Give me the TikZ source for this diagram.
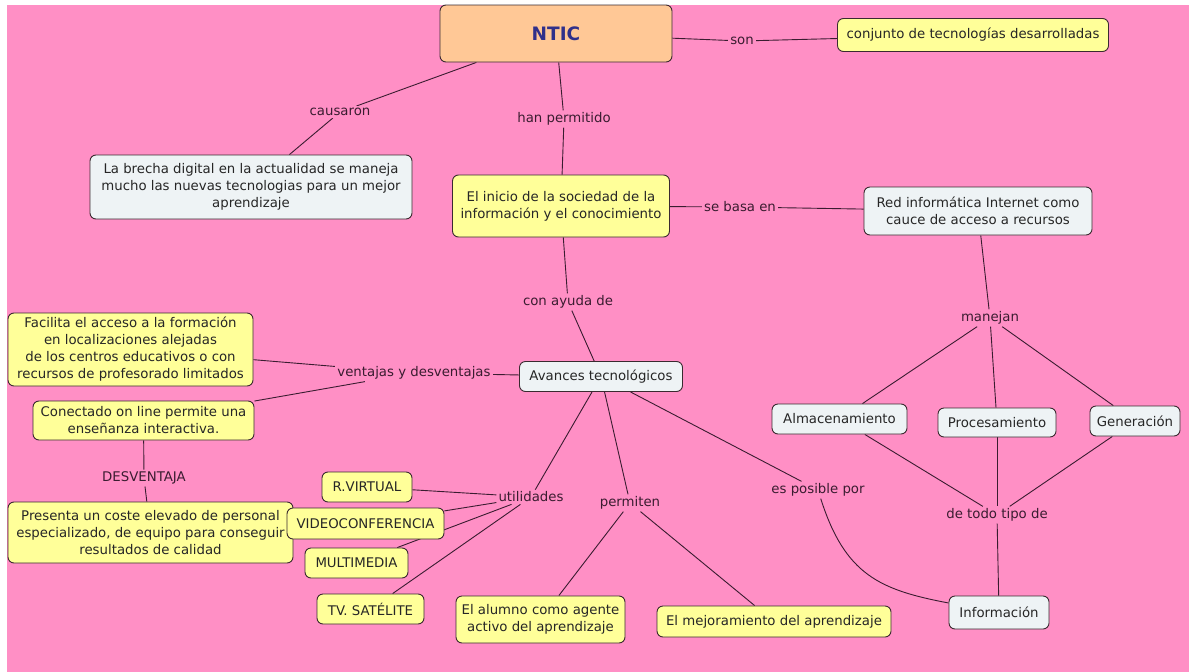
\documentclass[tikz,border=0pt]{standalone}
\usepackage{fontspec}
\setmainfont{DejaVu Sans}
\usetikzlibrary{backgrounds}
\definecolor{pinkbg}{HTML}{FF8FC5}
\definecolor{yelbox}{HTML}{FFFF99}
\definecolor{grybox}{HTML}{EEF3F5}
\definecolor{peach}{HTML}{FFC896}
\definecolor{navy}{HTML}{30308A}
\definecolor{linec}{HTML}{3A1C30}
\definecolor{labc}{HTML}{3A1C30}
\definecolor{boxborder}{HTML}{3A2A30}
\begin{document}
\begin{tikzpicture}[x=1pt,y=-1pt,
  box/.style={draw=boxborder, line width=0.9pt, rounded corners=6pt, align=center, inner sep=3pt,
              font=\fontsize{13.3}{17}\selectfont, text=black!85},
  yel/.style={box, fill=yelbox},
  gry/.style={box, fill=grybox},
  lab/.style={fill=pinkbg, inner sep=2pt, font=\fontsize{13.3}{15}\selectfont, text=labc},
  conn/.style={draw=linec, line width=0.9pt}]
\useasboundingbox (0,0) rectangle (1189,672);

% concept nodes
\node[box, fill=peach, minimum width=232pt, minimum height=57pt, font=\fontsize{18.5}{22}\selectfont\bfseries, text=navy] (ntic) at (556,33.5) {NTIC};
\node[yel, minimum width=271pt, minimum height=33pt] (conj) at (973,35) {conjunto de tecnologías desarrolladas};
\node[gry, minimum width=322pt, minimum height=64pt] (brecha) at (251,187) {La brecha digital en la actualidad se maneja\\mucho las nuevas tecnologias para un mejor\\aprendizaje};
\node[yel, minimum width=217pt, minimum height=62pt] (inicio) at (561,206) {El inicio de la sociedad de la\\información y el conocimiento};
\node[gry, minimum width=228pt, minimum height=48pt] (red) at (978,211) {Red informática Internet como\\cauce de acceso a recursos};
\node[gry, minimum width=163pt, minimum height=30pt] (avances) at (601,376.5) {Avances tecnológicos};
\node[yel, minimum width=245pt, minimum height=73pt] (facilita) at (130.5,349.5) {Facilita el acceso a la formación\\en localizaciones alejadas\\de los centros educativos o con\\recursos de profesorado limitados};
\node[yel, minimum width=221pt, minimum height=39pt] (conectado) at (143.5,420.5) {Conectado on line permite una\\enseñanza interactiva.};
\node[yel, minimum width=285pt, minimum height=61pt] (presenta) at (150.5,532.5) {Presenta un coste elevado de personal\\especializado, de equipo para conseguir\\resultados de calidad};
\node[yel, minimum width=90pt, minimum height=30pt] (rvirtual) at (367,487) {R.VIRTUAL};
\node[yel, minimum width=157pt, minimum height=31pt] (video) at (365.5,523.5) {VIDEOCONFERENCIA};
\node[yel, minimum width=103pt, minimum height=30pt] (multi) at (356.5,563) {MULTIMEDIA};
\node[yel, minimum width=107pt, minimum height=30pt] (tv) at (370.5,609) {TV. SATÉLITE};
\node[yel, minimum width=169pt, minimum height=47pt] (alumno) at (540.5,619.5) {El alumno como agente\\activo del aprendizaje};
\node[yel, minimum width=234pt, minimum height=31pt] (mejora) at (774,621.5) {El mejoramiento del aprendizaje};
\node[gry, minimum width=135pt, minimum height=30pt] (alm) at (839.5,419) {Almacenamiento};
\node[gry, minimum width=118pt, minimum height=29pt] (proc) at (997,422.5) {Procesamiento};
\node[gry, minimum width=90pt, minimum height=30pt] (gen) at (1135,421) {Generación};
\node[gry, minimum width=100pt, minimum height=33pt] (info) at (999,612.5) {Información};

% linking phrases
\node[lab] (lson) at (742,41) {son};
\node[lab] (lcaus) at (340,112) {causaron};
\node[lab] (lhan) at (564,119) {han permitido};
\node[lab] (lbasa) at (740,207) {se basa en};
\node[lab] (layuda) at (568,302) {con ayuda de};
\node[lab] (lmanejan) at (990,318) {manejan};
\node[lab] (lventajas) at (414,373) {ventajas y desventajas};
\node[lab] (ldesv) at (144,478) {DESVENTAJA};
\node[lab] (lutil) at (531,497) {utilidades};
\node[lab] (lperm) at (630,503) {permiten};
\node[lab] (lposible) at (818,490) {es posible por};
\node[lab] (ltodo) at (997,515) {de todo tipo de};

\begin{scope}[on background layer]
\fill[pinkbg] (7,5) rectangle (1189,672);
\draw[conn] (ntic) -- (lson) -- (conj);
\draw[conn] (ntic) -- (lcaus) -- (brecha);
\draw[conn] (ntic) -- (lhan) -- (inicio);
\draw[conn] (inicio) -- (lbasa) -- (red);
\draw[conn] (inicio) -- (layuda) -- (avances);
\draw[conn] (red) -- (lmanejan);
\draw[conn] (lmanejan) -- (alm);
\draw[conn] (lmanejan) -- (proc);
\draw[conn] (lmanejan) -- (gen);
\draw[conn] (alm) -- (ltodo);
\draw[conn] (proc) -- (ltodo);
\draw[conn] (gen) -- (ltodo);
\draw[conn] (ltodo) -- (info);
\draw[conn] (avances) -- (lventajas);
\draw[conn] (lventajas) -- (facilita);
\draw[conn] (lventajas) -- (conectado);
\draw[conn] (conectado) -- (ldesv) -- (presenta);
\draw[conn] (avances) -- (lutil);
\draw[conn] (lutil) -- (rvirtual);
\draw[conn] (lutil) -- (video);
\draw[conn] (lutil) -- (multi);
\draw[conn] (lutil) -- (tv);
\draw[conn] (avances) -- (lperm);
\draw[conn] (lperm) -- (alumno);
\draw[conn] (lperm) -- (mejora);
\draw[conn] (avances) -- (lposible);
\draw[conn] (lposible) .. controls (845,575) and (880,590) .. (info);
\end{scope}
\end{tikzpicture}
\end{document}
